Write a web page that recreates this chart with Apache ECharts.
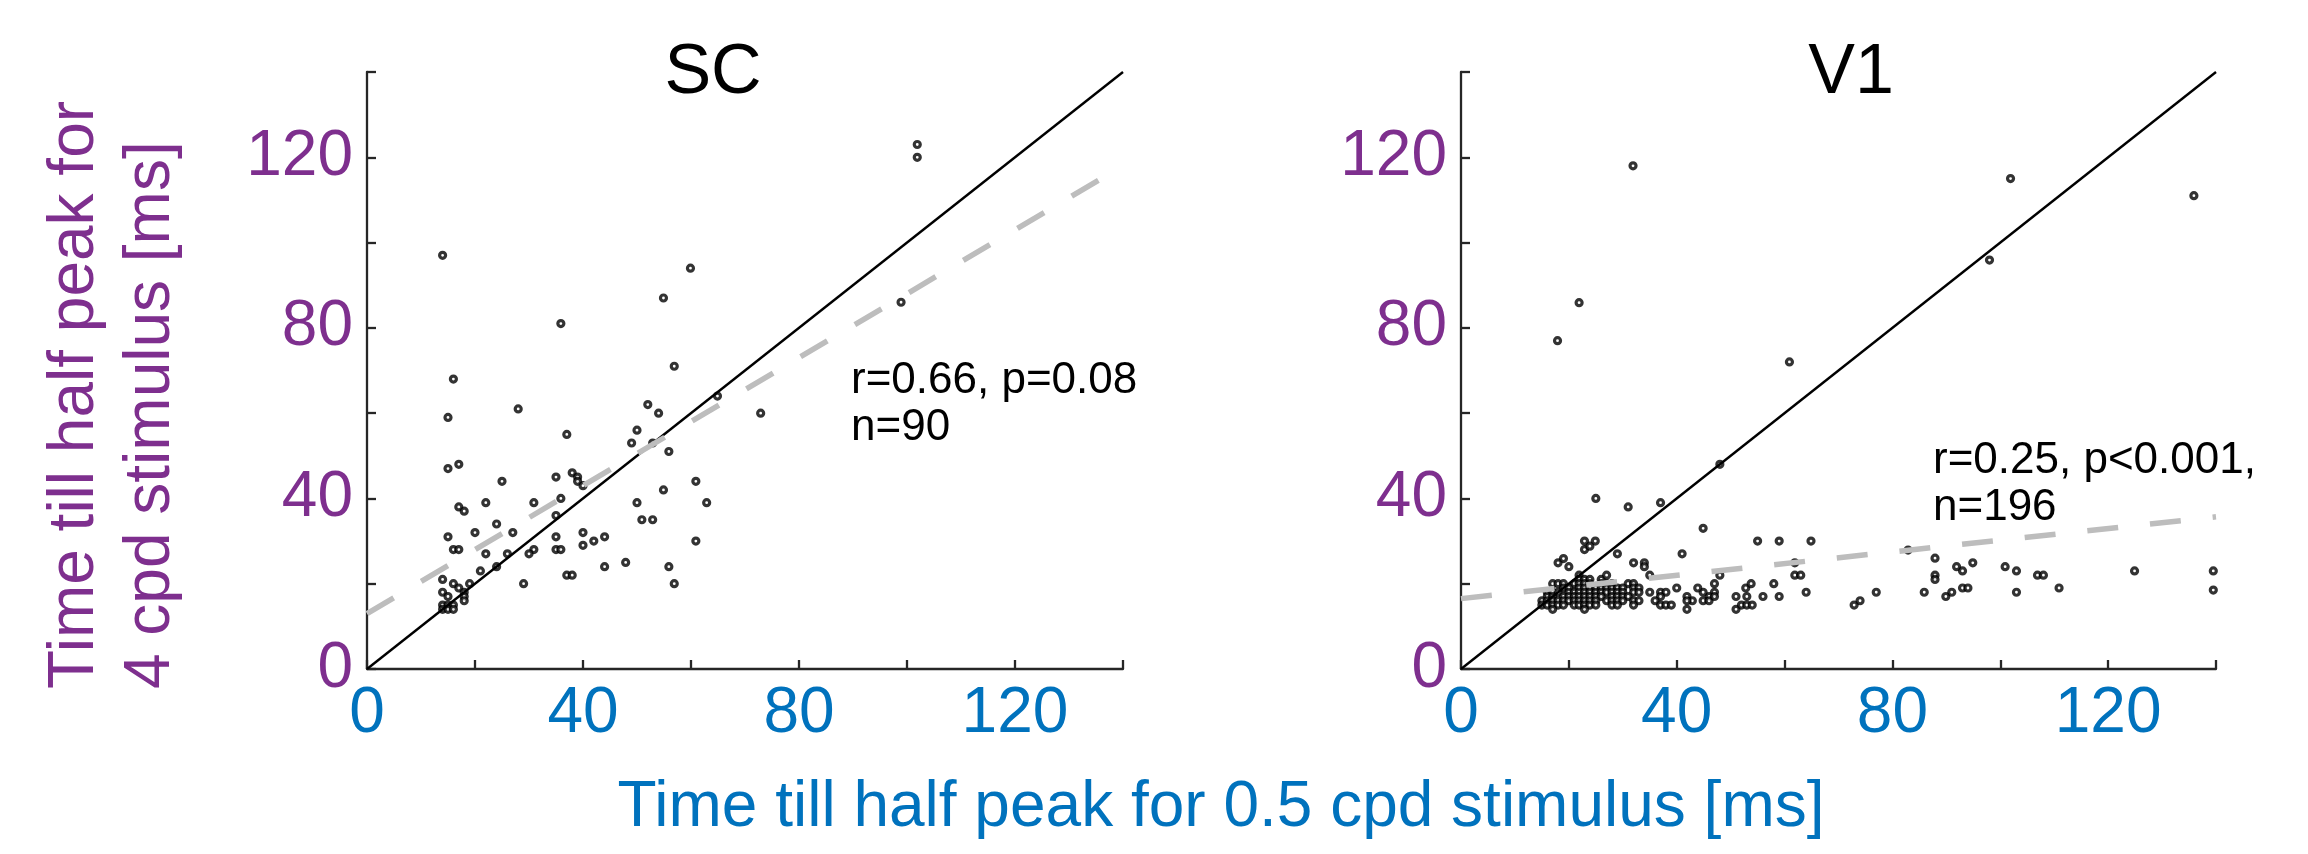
<!DOCTYPE html>
<html>
<head>
<meta charset="utf-8">
<script src="https://cdn.jsdelivr.net/npm/echarts@6/dist/echarts.min.js"></script>
<style>
  html, body { margin: 0; padding: 0; background: #fff; }
  #chart { width: 2308px; height: 854px; }
</style>
</head>
<body>
<div id="chart"></div>
<script>
// Datos: [x = 0.5 cpd, y = 4 cpd] en ms
const scPoints = [
  [14, 97], [59.9, 94], [54.9, 87], [35.9, 81], [101.9, 123], [101.9, 120], [98.9, 86],
  [16, 68], [56.9, 71], [15, 59], [28, 61], [64.9, 64], [72.9, 60], [52, 62], [54, 60],
  [50, 56], [37, 55], [49, 53], [52.9, 53], [55.9, 51], [15, 47], [17, 48], [25, 44],
  [35, 45], [38, 46], [39, 45], [39, 44], [40, 43], [60.9, 44], [54.9, 42], [35.9, 40],
  [17, 38], [18, 37], [22, 39], [30.9, 39], [50, 39], [62.9, 39], [35, 36], [50.9, 35],
  [52.9, 35], [24, 34], [20, 32], [27, 32], [40, 32], [15, 31], [35, 31], [44, 31],
  [42, 30], [60.9, 30], [40, 29], [16, 28], [17, 28], [30.9, 28], [35, 28], [35.9, 28],
  [22, 27], [26, 27], [30, 27], [47.9, 25], [24, 24], [44, 24], [55.9, 24], [21, 23],
  [37, 22], [38, 22], [14, 21], [16, 20], [19, 20], [29, 20], [56.9, 20], [17, 19],
  [18, 18], [14, 18], [15, 17], [18, 17], [18, 16], [14, 15], [15, 15], [16, 15],
  [14, 14], [15, 14], [16, 14]
];

const v1Points = [
  [31.9, 118], [101.9, 115], [135.9, 111], [98, 95.9], [21.9, 85.9], [17.9, 77], [60.9, 72],
  [48, 48], [25, 40], [31, 38], [37, 39], [44.9, 33], [22.9, 30], [24.9, 30], [22.9, 28],
  [23.9, 28.8], [55, 30], [59, 30], [64.9, 30], [41, 27], [29, 27], [18, 24.9], [19, 25.9],
  [20, 24], [32, 24.9], [34, 24.9], [34, 24], [35, 22], [21.9, 22], [21.9, 21], [22.9, 21],
  [23.9, 21], [26, 21], [27, 22], [48, 22], [61.9, 24.9], [61.9, 22], [63, 22], [64, 18],
  [59, 17], [58, 20], [56, 17], [52.8, 19], [53.8, 20], [51, 17], [53, 17], [51, 14],
  [52, 15], [53, 15], [54, 15], [47, 20], [47, 18], [46, 17], [44.9, 18], [43.9, 19],
  [44.9, 16], [46, 16], [47, 17], [40, 19], [41.9, 17], [41.9, 14], [42.9, 16], [41.9, 16],
  [35, 18], [37, 18], [38, 18], [37, 17], [36, 16], [37, 15], [38, 15], [39, 15],
  [72.9, 15], [74, 16], [77, 18], [82.9, 27.9], [87.9, 26], [87.9, 22], [87.9, 21],
  [85.9, 18], [89.9, 17], [91, 18], [91.9, 24], [93, 23], [93, 19], [94, 19], [94.9, 24.9],
  [100.9, 24], [103, 23], [103, 18], [106.9, 22], [108, 22], [110.9, 19], [124.9, 23],
  [139.5, 23], [139.5, 18.5],
  // grupo denso cerca del origen
  [17, 20], [18, 20], [19, 20], [21, 20], [21.9, 20], [22.9, 20], [23.9, 20], [26, 20],
  [27, 20], [28, 20], [31, 20], [32, 20],
  [19, 19], [20, 19], [21.9, 19], [22.9, 19], [23.9, 19], [25, 19], [26, 19], [27, 19],
  [28, 19], [29, 19], [30, 19], [32, 19], [33, 19],
  [16, 18], [17, 18], [18, 18], [20, 18], [21, 18], [21.9, 18], [22.9, 18], [23.9, 18],
  [25, 18], [26, 18], [27, 18], [28, 18], [29, 18], [30, 18], [32, 18], [33, 18],
  [16, 17], [17, 17], [19, 17], [20, 17], [21, 17], [21.9, 17], [22.9, 17], [23.9, 17],
  [25, 17], [26, 17], [28, 17], [29, 17], [30, 17], [31, 17],
  [15, 16], [16, 16], [17, 16], [18, 16], [19, 16], [20, 16], [21, 16], [21.9, 16],
  [22.9, 16], [23.9, 16], [25, 16], [27, 16], [28, 16], [29, 16], [30, 16], [32, 16], [33, 16],
  [15, 15], [16, 15], [17, 15], [18, 15], [19, 15], [21, 15], [21.9, 15], [22.9, 15],
  [23.9, 15], [25, 15], [28, 15], [29, 15], [32, 15],
  [17, 14], [22.9, 14]
];

const scFit = [13, 0.75];
const v1Fit = [16.5, 0.137];

const axisRange = [0, 140];
const tickLabels = [0, 40, 80, 120];

const purple = '#7E2F8E';
const blue = '#0072BD';
const axisColor = '#262626';
const font = '"Liberation Sans", Arial, sans-serif';

function fitLine(fit) {
  return axisRange.map(x => [x, fit[0] + fit[1] * x]);
}

function makeX(gridIndex) {
  return {
    type: 'value', gridIndex: gridIndex, min: 0, max: 140, interval: 20,
    axisLine: { show: true, onZero: false, lineStyle: { color: axisColor, width: 2.3 } },
    axisTick: { show: true, inside: true, length: 9, lineStyle: { color: axisColor, width: 2.3 } },
    splitLine: { show: false },
    axisLabel: {
      color: blue, fontSize: 64, fontFamily: font, margin: 13,
      formatter: v => tickLabels.indexOf(v) >= 0 ? String(v) : ''
    }
  };
}

function makeY(gridIndex) {
  return {
    type: 'value', gridIndex: gridIndex, min: 0, max: 140, interval: 20,
    axisLine: { show: true, onZero: false, lineStyle: { color: axisColor, width: 2.3 } },
    axisTick: { show: true, inside: true, length: 9, lineStyle: { color: axisColor, width: 2.3 } },
    splitLine: { show: false },
    axisLabel: {
      color: purple, fontSize: 64, fontFamily: font, margin: 14,
      formatter: v => tickLabels.indexOf(v) >= 0 ? String(v) : ''
    }
  };
}

const dotStyle = { color: '#fff', borderColor: '#000', borderWidth: 3.2 };
const diagStyle = { color: '#000', width: 2.4 };
const dashStyle = { color: '#bdbdbd', width: 5.5, type: [31, 32] };

function text(str, x, y, size, color, align, extra) {
  return Object.assign({
    type: 'text', x: x, y: y, silent: true,
    style: { text: str, font: size + 'px ' + font, fill: color, textAlign: align || 'left', verticalAlign: 'middle' }
  }, extra || {});
}

const chart = echarts.init(document.getElementById('chart'), null, { renderer: 'canvas' });

const option = {
  backgroundColor: '#fff',
  animation: false,
  grid: [
    { left: 367, top: 72, width: 756, height: 597 },
    { left: 1461, top: 72, width: 755, height: 597 }
  ],
  xAxis: [makeX(0), makeX(1)],
  yAxis: [makeY(0), makeY(1)],
  series: [
    { type: 'scatter', xAxisIndex: 0, yAxisIndex: 0, data: scPoints, symbol: 'circle', symbolSize: 6, itemStyle: dotStyle },
    { type: 'line', xAxisIndex: 0, yAxisIndex: 0, data: axisRange.map(v => [v, v]), symbol: 'none', lineStyle: diagStyle },
    { type: 'line', xAxisIndex: 0, yAxisIndex: 0, data: fitLine(scFit), symbol: 'none', lineStyle: dashStyle },
    { type: 'scatter', xAxisIndex: 1, yAxisIndex: 1, data: v1Points, symbol: 'circle', symbolSize: 6, itemStyle: dotStyle },
    { type: 'line', xAxisIndex: 1, yAxisIndex: 1, data: axisRange.map(v => [v, v]), symbol: 'none', lineStyle: diagStyle },
    { type: 'line', xAxisIndex: 1, yAxisIndex: 1, data: fitLine(v1Fit), symbol: 'none', lineStyle: dashStyle }
  ],
  graphic: [
    // titulos
    text('SC', 713, 74, 70, '#000', 'center'),
    text('V1', 1851, 74, 70, '#000', 'center'),
    // estadisticas
    text('r=0.66, p=0.08', 851, 381, 44, '#000'),
    text('n=90', 851, 428, 44, '#000'),
    text('r=0.25, p<0.001,', 1933, 461, 44, '#000'),
    text('n=196', 1933, 508, 44, '#000'),
    // etiqueta eje x
    text('Time till half peak for 0.5 cpd stimulus [ms]', 1221, 808, 64, blue, 'center'),
    // etiqueta eje y (dos lineas giradas)
    text('Time till half peak for', 75, 689, 64, purple, 'left', { rotation: Math.PI / 2 }),
    text('4 cpd stimulus [ms]', 151, 689, 64, purple, 'left', { rotation: Math.PI / 2 })
  ]
};

chart.setOption(option);
</script>
</body>
</html>
